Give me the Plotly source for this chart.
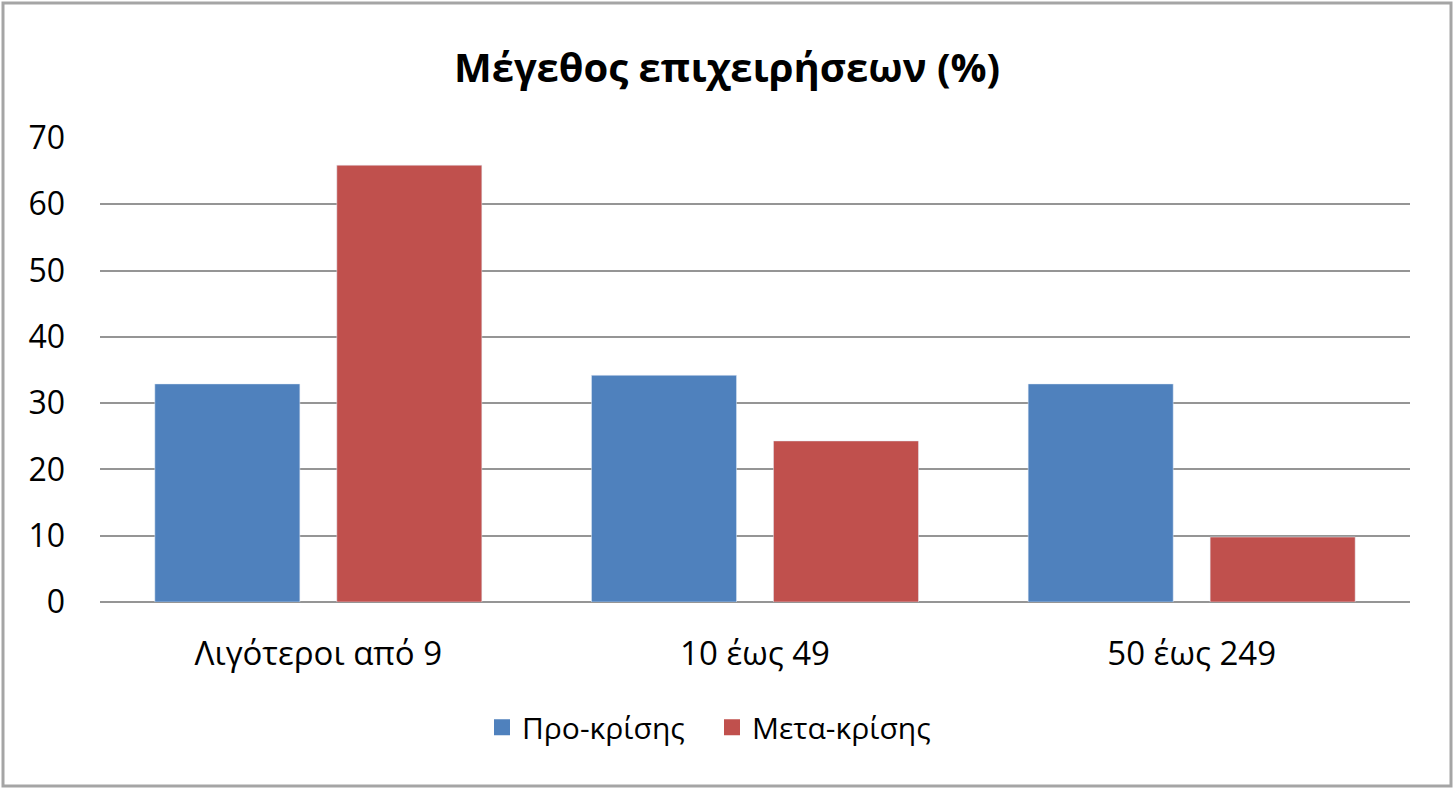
import plotly.graph_objects as go

categories = ["Λιγότεροι από 9", "10 έως 49", "50 έως 249"]
pre_crisis = [32.9, 34.2, 32.9]
post_crisis = [65.9, 24.3, 9.8]
y_ticks = [0, 10, 20, 30, 40, 50, 60, 70]
series_names = ["Προ-κρίσης", "Μετα-κρίσης"]
series_colors = ["#4F81BD", "#C0504D"]

FONT = "Open Sans"
W, H = 1454, 789
L, R, T, B = 100, 44, 138, 187

fig = go.Figure()
for name, vals, col in zip(series_names, [pre_crisis, post_crisis], series_colors):
    fig.add_trace(go.Bar(x=categories, y=vals, name=name, marker_color=col,
                         showlegend=False, legendgroup=name, hoverinfo="x+y"))
# legend-only entries so the swatches can be bigger than plotly's bar icon
for name, col in zip(series_names, series_colors):
    fig.add_trace(go.Scatter(x=[None], y=[None], mode="markers", name=name,
                             legendgroup=name,
                             marker=dict(symbol="square", size=19, color=col)))

# outer chart border (Excel-style frame)
pw, ph = W - L - R, H - T - B
fig.add_shape(type="rect", xref="paper", yref="paper",
              x0=(3 - L) / pw, x1=(W - 3 - L) / pw,
              y0=-(H - 3 - T - ph) / ph, y1=(ph + T - 3) / ph,
              line=dict(color="#A5A5A5", width=3), layer="below")

fig.update_layout(
    width=W, height=H,
    margin=dict(l=L, r=R, t=T, b=B),
    paper_bgcolor="white", plot_bgcolor="white",
    font=dict(family=FONT, color="black"),
    title=dict(text="<b>Μέγεθος επιχειρήσεων (%)</b>", x=0.5, xref="container",
               xanchor="center", y=1 - 68 / H, yanchor="middle",
               font=dict(family=FONT, size=40, color="black")),
    barmode="group", bargap=0.1665, bargroupgap=0.203,
    showlegend=True,
    legend=dict(orientation="h", x=(494 - 12 - L) / pw, xanchor="left",
                y=-0.27, yanchor="middle",
                font=dict(family=FONT, size=30, color="black"),
                itemwidth=30, entrywidth=185, entrywidthmode="pixels",
                traceorder="normal", tracegroupgap=0),
)
fig.update_xaxes(showgrid=False, showline=False, ticks="",
                 tickfont=dict(family=FONT, size=33, color="black"),
                 ticklabelstandoff=29)
fig.update_yaxes(range=[0, 70], tickvals=y_ticks, showgrid=True,
                 gridcolor="#959595", gridwidth=2, zeroline=True,
                 zerolinecolor="#959595", zerolinewidth=2, showline=False,
                 ticks="", ticklabelstandoff=34,
                 tickfont=dict(family=FONT, size=32, color="black"))

fig.write_html("out.html", config={"displayModeBar": False},
               post_script="document.body.style.margin='0';")
